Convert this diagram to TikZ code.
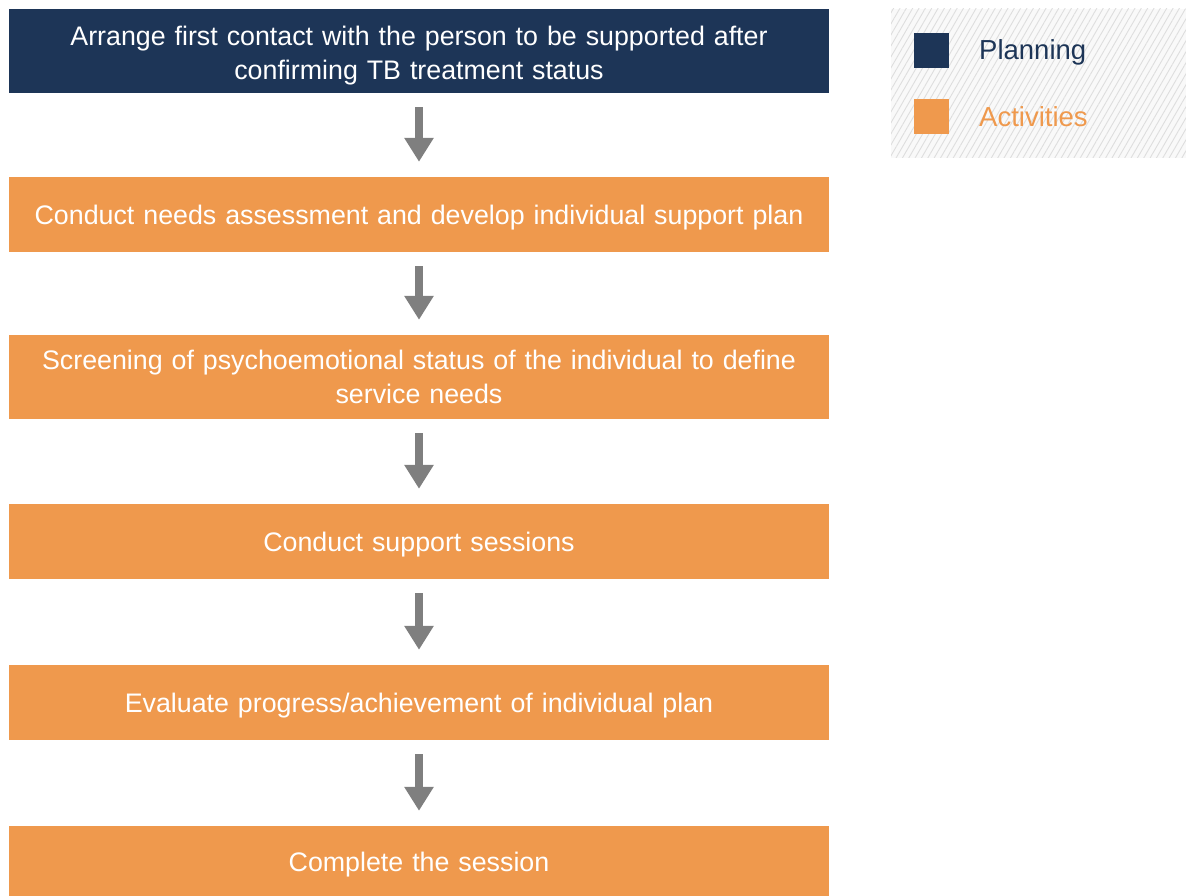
\documentclass[tikz,border=0pt]{standalone}
\usepackage{fontspec}
\setmainfont{Liberation Sans}
\usetikzlibrary{arrows.meta,patterns.meta}
\definecolor{navy}{HTML}{1D3557}
\definecolor{orng}{HTML}{EF994D}
\definecolor{arrgray}{HTML}{7F7F7F}
\definecolor{hatchbg}{HTML}{F9F9F9}
\definecolor{hatchln}{HTML}{DEDEDE}
\begin{document}
\begin{tikzpicture}[x=1pt,y=-1pt,
  boxtext/.style={inner sep=0pt, text width=810pt, align=center, text=white,
    font=\fontsize{26.8}{34}\selectfont, yshift=-3.5pt},
  box/.style={rectangle, inner sep=0pt, minimum width=820pt},
  planbox/.style={box, fill=navy},
  actbox/.style={box, fill=orng},
  arr/.style={draw=arrgray, line width=8pt, shorten <=14pt, shorten >=15pt,
    -{Triangle[width=28pt,length=24pt]}, arrgray},
  legsq/.style={rectangle, inner sep=0pt, minimum size=35pt},
  leglabel/.style={anchor=west, inner sep=0pt, font=\fontsize{27.5}{30}\selectfont}
]
\useasboundingbox (0,0) rectangle (1186,896);
% flow boxes
\node[planbox, minimum height=84pt, label={[boxtext, yshift=-1pt]center:{Arrange first contact with the person to be supported after\\confirming TB treatment status}}] (b1) at (419,51) {};
\node[actbox, minimum height=75pt, label={[boxtext, yshift=0.5pt]center:{Conduct needs assessment and develop individual support plan}}] (b2) at (419,214.5) {};
\node[actbox, minimum height=84pt, label={[boxtext, yshift=4pt]center:{Screening of psychoemotional status of the individual to define\\service needs}}] (b3) at (419,377) {};
\node[actbox, minimum height=75pt, label={[boxtext]center:{Conduct support sessions}}] (b4) at (419,541.5) {};
\node[actbox, minimum height=75pt, label={[boxtext]center:{Evaluate progress/achievement of individual plan}}] (b5) at (419,702.5) {};
\node[actbox, minimum height=70pt, label={[boxtext]center:{Complete the session}}] (b6) at (419,861) {};
% arrows
\draw[arr] (b1) -- (b2);
\draw[arr] (b2) -- (b3);
\draw[arr] (b3) -- (b4);
\draw[arr] (b4) -- (b5);
\draw[arr] (b5) -- (b6);
% legend
\fill[hatchbg] (891,9) rectangle (1186,158);
\fill[pattern={Lines[angle=60,distance=5.5pt,line width=0.9pt]}, pattern color=hatchln] (891,9) rectangle (1186,158);
\node[legsq, fill=navy] (lp) at (931.5,50.5) {};
\node[legsq, fill=orng] (la) at (931.5,116.5) {};
\node[leglabel, text=navy] (tp) at (979,52) {Planning};
\node[leglabel, text=orng] (ta) at (979,116.5) {Activities};
\end{tikzpicture}
\end{document}
